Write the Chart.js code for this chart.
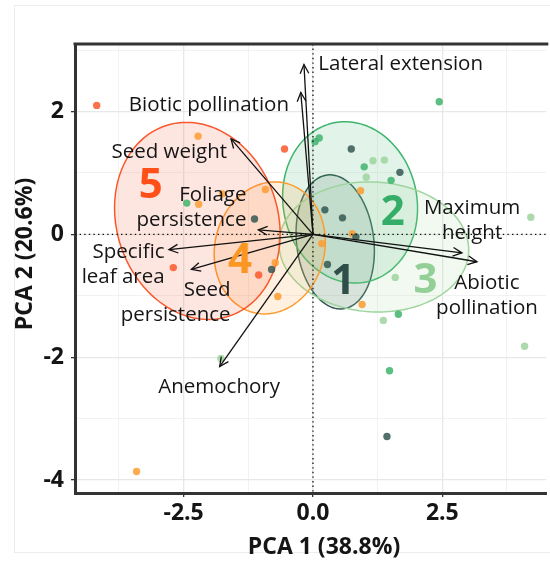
<!DOCTYPE html>
<html>
<head>
<meta charset="utf-8">
<script src="https://cdn.jsdelivr.net/npm/chart.js@4.4.1/dist/chart.umd.min.js"></script>
<style>
  html, body { margin: 0; padding: 0; background: #ffffff; }
  #wrap { width: 550px; height: 562px; position: relative; }
</style>
</head>
<body>
<div id="wrap"><canvas id="pca"></canvas></div>
<script>
// ---- Species scores on the first two principal components, by functional group ----
const groupNames = ['1', '2', '3', '4', '5'];

const group1X = [-1.13, -0.80, 0.74, 1.68, 0.23, 0.57, 0.28, 0.83, 1.43];
const group1Y = [0.25, -0.57, 1.39, 1.01, 0.40, 0.27, -0.49, -0.04, -3.29];

const group2X = [2.44, 0.04, 0.12, 0.99, 1.51, -2.44, 1.65, 1.48];
const group2Y = [2.16, 1.51, 1.57, 1.10, 0.88, 0.51, -1.30, -2.22];

const group3X = [1.16, 1.38, 1.03, 4.21, 1.59, 1.36, 4.09, -1.78];
const group3Y = [1.20, 1.21, 0.93, 0.28, -0.70, -1.40, -1.82, -2.02];

const group4X = [-2.22, -2.21, -1.75, -0.92, -0.73, -0.68, 0.92, 0.76, 0.17, 0.95, -3.41];
const group4Y = [1.60, 0.49, 0.66, 0.73, -0.46, -1.01, 0.71, 0.01, -0.15, -1.14, -3.86];

const group5X = [-4.18, -0.55, -2.70, -1.05];
const group5Y = [2.10, 1.39, -0.54, -0.66];

// ---- Trait loadings (arrow tips) ----
const traitNames = ['Lateral extension', 'Biotic pollination', 'Seed weight', 'Foliage persistence',
  'Specific leaf area', 'Seed persistence', 'Anemochory', 'Maximum height', 'Abiotic pollination'];
const loadingX = [-0.174, -0.236, -1.584, -1.056, -2.784, -2.350, -1.804, 2.880, 3.170];
const loadingY = [2.766, 2.312, 1.556, 0.073, -0.248, -0.569, -2.151, -0.300, -0.445];

// ---- Normal-data ellipses per group: centre and two conjugate semi-axes ----
const ellipseCentreX = [0.430, 0.717, 1.177, -0.836, -2.235];
const ellipseCentreY = [-0.122, 0.521, -0.204, -0.220, 0.220];
const ellipseAxisUX  = [0.757, 1.304, 1.833, 1.074, 1.600];
const ellipseAxisUY  = [-0.147, -0.098, -0.049, 0.100, -0.212];
const ellipseAxisVY  = [1.082, 1.310, 1.058, 1.070, 1.590];

// ---- Axis ticks ----
const xTickValues = [-3.75, -2.5, -1.25, 0, 1.25, 2.5, 3.75];
const xTickLabels = ['', '-2.5', '', '0.0', '', '2.5', ''];
const yTickValues = [-4, -3, -2, -1, 0, 1, 2, 3];
const yTickLabels = ['-4', '', '-2', '', '0', '', '2', ''];

// ---- Styling ----
const groupColours = ['52,88,82', '62,180,108', '158,212,158', '252,156,48', '250,88,44'];
const numberColours = ['#2f4d49', '#34ad66', '#93cf96', '#fb9622', '#ff5019'];
const FONT = '"Open Sans", "DejaVu Sans", sans-serif';
const INK = '#151515';

// Text placement for the loading labels (value units); align = canvas textAlign
const traitLabelLayout = [
  { lines: ['Lateral extension'], x: 0.104, y: 2.770, align: 'left' },
  { lines: ['Biotic pollination'], x: -0.464, y: 2.098, align: 'right' },
  { lines: ['Seed weight'], x: -1.660, y: 1.339, align: 'right' },
  { lines: ['Foliage', 'persistence'], x: -1.286, y: 0.639, align: 'right' },
  { lines: ['Specific', 'leaf area'], x: -2.868, y: -0.297, align: 'right' },
  { lines: ['Seed', 'persistence'], x: -1.593, y: -0.909, align: 'right' },
  { lines: ['Anemochory'], x: -1.814, y: -2.485, align: 'center' },
  { lines: ['Maximum', 'height'], x: 3.075, y: 0.422, align: 'center' },
  { lines: ['Abiotic', 'pollination'], x: 3.363, y: -0.790, align: 'center' }
];
const groupNumberLayout = [
  { x: 0.583, y: -0.774 }, { x: 1.541, y: 0.350 }, { x: 2.174, y: -0.758 },
  { x: -1.411, y: -0.432 }, { x: -3.135, y: 0.790 }
];

const groupXs = [group1X, group2X, group3X, group4X, group5X];
const groupYs = [group1Y, group2Y, group3Y, group4Y, group5Y];

const pointSets = groupNames.map((name, g) => ({
  type: 'scatter',
  label: 'Group ' + name,
  data: groupXs[g].map((x, i) => ({ x: x, y: groupYs[g][i] })),
  backgroundColor: 'rgba(' + groupColours[g] + ',0.85)',
  borderWidth: 0,
  pointRadius: 3.7,
  pointHoverRadius: 3.7,
  order: 2
}));

const arrowSets = traitNames.map((name, i) => ({
  type: 'line',
  label: name,
  data: [{ x: 0, y: 0 }, { x: loadingX[i], y: loadingY[i] }],
  borderColor: '#111111',
  borderWidth: 1.3,
  pointRadius: 0,
  fill: false,
  order: 1,
  isArrow: true
}));

function ellipsePath(ctx, xs, ys, g) {
  ctx.beginPath();
  const n = 160;
  for (let i = 0; i <= n; i++) {
    const t = (i / n) * Math.PI * 2;
    const vx = ellipseCentreX[g] + ellipseAxisUX[g] * Math.cos(t);
    const vy = ellipseCentreY[g] + ellipseAxisUY[g] * Math.cos(t) + ellipseAxisVY[g] * Math.sin(t);
    const px = xs.getPixelForValue(vx);
    const py = ys.getPixelForValue(vy);
    if (i === 0) ctx.moveTo(px, py); else ctx.lineTo(px, py);
  }
  ctx.closePath();
}

const biplotPlugin = {
  id: 'biplot',
  beforeDraw(chart) {
    const ctx = chart.ctx;
    ctx.save();
    ctx.fillStyle = '#ffffff';
    ctx.fillRect(0, 0, chart.width, chart.height);
    // faint figure frame
    ctx.strokeStyle = '#ececec';
    ctx.lineWidth = 1;
    ctx.strokeRect(14.5, 5.5, 560, 547);
    ctx.restore();
  },
  beforeDatasetsDraw(chart) {
    const { ctx, chartArea: a, scales: { x, y } } = chart;
    ctx.save();
    ctx.beginPath();
    ctx.rect(a.left, a.top, a.right - a.left, a.bottom - a.top);
    ctx.clip();
    for (let g = 0; g < groupNames.length; g++) {
      ellipsePath(ctx, x, y, g);
      ctx.fillStyle = 'rgba(' + groupColours[g] + ',0.15)';
      ctx.fill();
      ctx.strokeStyle = 'rgba(' + groupColours[g] + ',1)';
      ctx.lineWidth = 1.5;
      ctx.stroke();
    }
    ctx.restore();
  },
  afterDatasetsDraw(chart) {
    const { ctx, chartArea: a, scales: { x, y } } = chart;
    ctx.save();
    // arrow heads
    chart.data.datasets.forEach((ds, di) => {
      if (!ds.isArrow) return;
      const pts = chart.getDatasetMeta(di).data;
      const p0 = pts[0], p1 = pts[1];
      const ang = Math.atan2(p1.y - p0.y, p1.x - p0.x);
      const len = 10, spread = Math.PI / 7;
      ctx.beginPath();
      ctx.moveTo(p1.x - len * Math.cos(ang - spread), p1.y - len * Math.sin(ang - spread));
      ctx.lineTo(p1.x, p1.y);
      ctx.lineTo(p1.x - len * Math.cos(ang + spread), p1.y - len * Math.sin(ang + spread));
      ctx.strokeStyle = '#111111';
      ctx.lineWidth = 1.3;
      ctx.stroke();
    });

    // trait labels
    ctx.fillStyle = INK;
    ctx.font = '20.5px ' + FONT;
    ctx.textBaseline = 'middle';
    traitLabelLayout.forEach(l => {
      ctx.textAlign = l.align;
      const px = x.getPixelForValue(l.x);
      const py = y.getPixelForValue(l.y);
      l.lines.forEach((t, k) => ctx.fillText(t, px, py + k * 24.8));
    });

    // group numbers
    ctx.font = 'bold 42px ' + FONT;
    ctx.textAlign = 'center';
    groupNumberLayout.forEach((p, g) => {
      ctx.fillStyle = numberColours[g];
      ctx.fillText(groupNames[g], x.getPixelForValue(p.x), y.getPixelForValue(p.y));
    });

    // dotted reference lines through the origin
    ctx.beginPath();
    ctx.rect(a.left, a.top, a.right - a.left, a.bottom - a.top);
    ctx.clip();
    ctx.strokeStyle = '#111111';
    ctx.lineWidth = 1.3;
    ctx.setLineDash([1.4, 3.2]);
    const x0 = x.getPixelForValue(0), y0 = y.getPixelForValue(0);
    ctx.beginPath();
    ctx.moveTo(x0, a.top); ctx.lineTo(x0, a.bottom);
    ctx.moveTo(a.left, y0); ctx.lineTo(a.right, y0);
    ctx.stroke();
    ctx.restore();
  },
  afterDraw(chart) {
    const { ctx, chartArea: a } = chart;
    ctx.save();
    // panel border (top)
    ctx.strokeStyle = '#333333';
    ctx.lineWidth = 3;
    ctx.beginPath();
    ctx.moveTo(a.left - 1.5, a.top);
    ctx.lineTo(a.right + 2, a.top);
    ctx.stroke();
    // axis titles
    ctx.fillStyle = INK;
    ctx.font = 'bold 23px ' + FONT;
    ctx.textAlign = 'center';
    ctx.textBaseline = 'middle';
    ctx.fillText('PCA 1 (38.8%)', 324, 547);
    ctx.translate(25, 254);
    ctx.rotate(-Math.PI / 2);
    ctx.fillText('PCA 2 (20.6%)', 0, 0);
    ctx.restore();
  }
};

function majorTick(values, labels, v) {
  const i = values.indexOf(v);
  return i >= 0 && labels[i] !== '';
}

new Chart(document.getElementById('pca'), {
  type: 'scatter',
  data: { datasets: arrowSets.concat(pointSets) },
  options: {
    responsive: true,
    maintainAspectRatio: false,
    animation: false,
    events: [],
    layout: { padding: { top: 44, right: 0, bottom: 0, left: 0 } },
    plugins: { legend: { display: false }, tooltip: { enabled: false } },
    scales: {
      x: {
        type: 'linear',
        min: -4.60,
        max: 4.51,
        afterBuildTicks(scale) { scale.ticks = xTickValues.map(v => ({ value: v })); },
        afterFit(scale) { scale.height = 69; },
        ticks: {
          autoSkip: false,
          maxRotation: 0,
          padding: 3,
          color: INK,
          font: { family: FONT, size: 23, weight: 'bold' },
          callback(v) { const i = xTickValues.indexOf(v); return i >= 0 ? xTickLabels[i] : ''; }
        },
        grid: {
          color: c => (c.tick && majorTick(xTickValues, xTickLabels, c.tick.value)) ? '#e8e8e8' : '#f1f1f1',
          lineWidth: c => (c.tick && majorTick(xTickValues, xTickLabels, c.tick.value)) ? 1.3 : 0.9,
          tickColor: c => (c.tick && majorTick(xTickValues, xTickLabels, c.tick.value)) ? '#333333' : 'rgba(0,0,0,0)',
          tickLength: 4,
          tickWidth: 1.3
        },
        border: { color: '#333333', width: 3 }
      },
      y: {
        type: 'linear',
        min: -4.21,
        max: 3.10,
        afterBuildTicks(scale) { scale.ticks = yTickValues.map(v => ({ value: v })); },
        afterFit(scale) { scale.width = 75; },
        ticks: {
          autoSkip: false,
          padding: 7,
          color: INK,
          font: { family: FONT, size: 23, weight: 'bold' },
          callback(v) { const i = yTickValues.indexOf(v); return i >= 0 ? yTickLabels[i] : ''; }
        },
        grid: {
          color: c => (c.tick && majorTick(yTickValues, yTickLabels, c.tick.value)) ? '#e8e8e8' : '#f1f1f1',
          lineWidth: c => (c.tick && majorTick(yTickValues, yTickLabels, c.tick.value)) ? 1.3 : 0.9,
          tickColor: c => (c.tick && majorTick(yTickValues, yTickLabels, c.tick.value)) ? '#333333' : 'rgba(0,0,0,0)',
          tickLength: 4,
          tickWidth: 1.3
        },
        border: { color: '#333333', width: 3 }
      }
    }
  },
  plugins: [biplotPlugin]
});
</script>
</body>
</html>
